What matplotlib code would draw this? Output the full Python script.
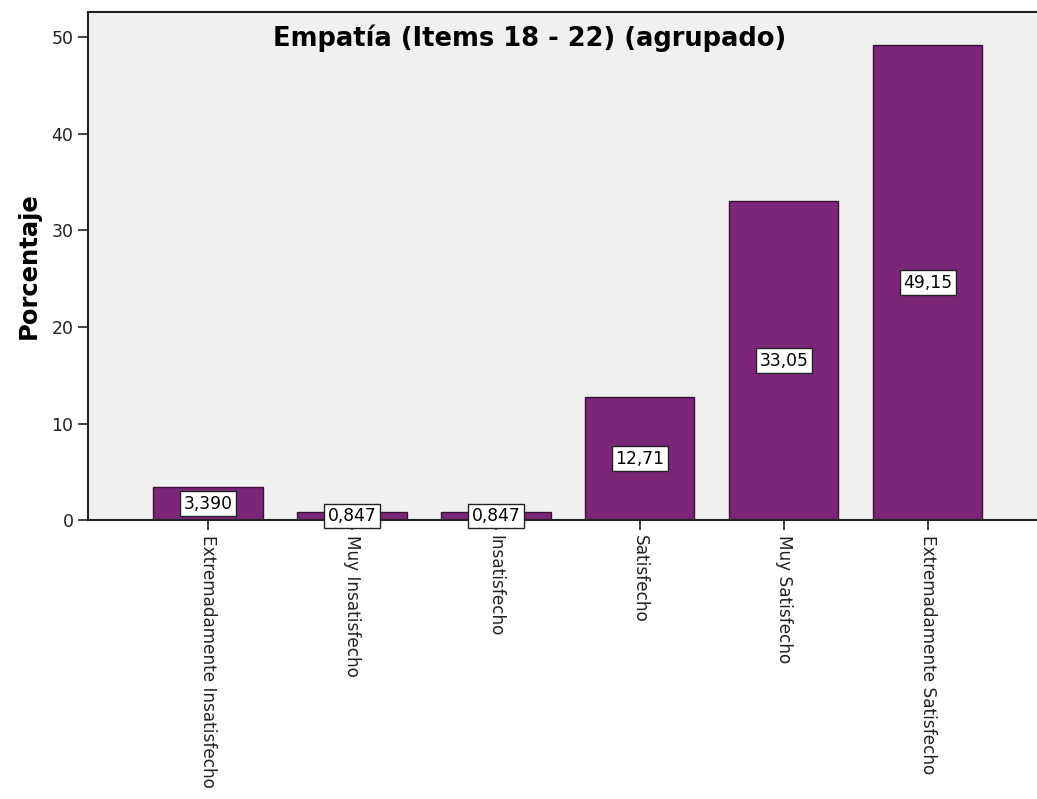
import matplotlib
matplotlib.use("Agg")
import matplotlib.pyplot as plt

# Empatía (ítems 18-22), porcentaje por categoría
categorias = ["Extremadamente Insatisfecho", "Muy Insatisfecho", "Insatisfecho",
              "Satisfecho", "Muy Satisfecho", "Extremadamente Satisfecho"]
porcentajes = [3.390, 0.847, 0.847, 12.71, 33.05, 49.15]
y_ticks = [0, 10, 20, 30, 40, 50]

BAR_COLOR = "#7c2679"
BG_COLOR = "#f0f0f0"

plt.rcParams["font.family"] = ["DejaVu Sans"]

fig = plt.figure(figsize=(10.37, 7.99), dpi=100)
ax = fig.add_axes([0.085, 0.349, 0.915, 0.636])
ax.set_facecolor(BG_COLOR)

x = list(range(len(categorias)))
ax.bar(x, porcentajes, width=0.76, color=BAR_COLOR, edgecolor="#3a1238", linewidth=1.0, zorder=2)


def etiqueta(v):
    txt = f"{v:.3f}" if v < 10 else f"{v:.2f}"
    return txt.replace(".", ",")


for xi, v in zip(x, porcentajes):
    ax.text(xi, v / 2, etiqueta(v), ha="center", va="center", fontsize=12.3, zorder=4,
            bbox=dict(boxstyle="square,pad=0.2", facecolor="white", edgecolor="#222222", linewidth=1))

ax.set_xlim(-0.833, 5.76)
ax.set_ylim(0, 52.6)
ax.set_yticks(y_ticks)
ax.set_yticklabels([str(t) for t in y_ticks], fontsize=12.5)
ax.set_xticks(x)
ax.set_xticklabels(categorias, rotation=270, fontsize=12.2, va="top", ha="center")
ax.tick_params(axis="both", direction="out", length=7, width=1.2, colors="#222222")

for side in ["left", "top", "bottom"]:
    ax.spines[side].set_linewidth(1.5)
    ax.spines[side].set_color("#222222")
ax.spines["right"].set_visible(False)

ax.set_ylabel("Porcentaje", fontsize=17.5, fontweight="bold", labelpad=8)
ax.text(0.465, 0.948, "Empatía (Items 18 - 22) (agrupado)", transform=ax.transAxes,
        ha="center", va="center", fontsize=18.5, fontweight="bold")

fig.savefig("out.png", dpi=100, facecolor="white")
